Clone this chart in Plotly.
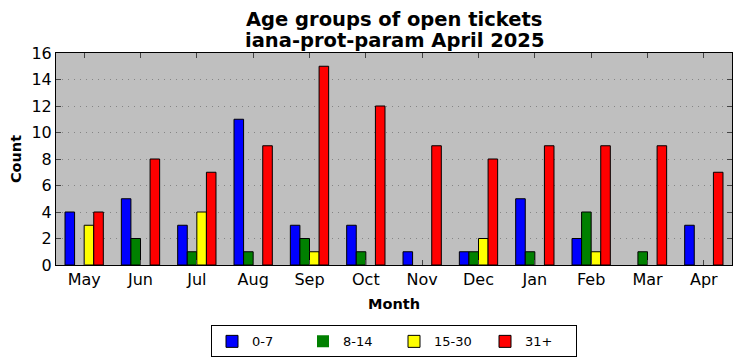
import plotly.graph_objects as go

months = ["May", "Jun", "Jul", "Aug", "Sep", "Oct", "Nov", "Dec", "Jan", "Feb", "Mar", "Apr"]
age_0_7 = [4, 5, 3, 11, 3, 3, 1, 1, 5, 2, 0, 3]
age_8_14 = [0, 2, 1, 1, 2, 1, 0, 1, 1, 4, 1, 0]
age_15_30 = [3, 0, 4, 0, 1, 0, 0, 2, 0, 1, 0, 0]
age_31p = [4, 8, 7, 9, 15, 12, 9, 8, 9, 9, 9, 7]
y_ticks = [0, 2, 4, 6, 8, 10, 12, 14, 16]
title_lines = ["Age groups of open tickets", "iana-prot-param April 2025"]

series = [("0-7", age_0_7, "#0000ff"), ("8-14", age_8_14, "#008000"),
          ("15-30", age_15_30, "#ffff00"), ("31+", age_31p, "#ff0000")]

xs = list(range(len(months)))
w = 0.17
fig = go.Figure()
for k, (name, vals, col) in enumerate(series):
    fig.add_trace(go.Bar(x=xs, y=vals, name=name, marker_color=col,
                         marker_line_color="black",
                         marker_line_width=[1 if v else 0 for v in vals],
                         width=w, offset=-0.34 + k * w))

font = "DejaVu Sans"
for i, line in enumerate(title_lines):
    fig.add_annotation(text="<b>%s</b>" % line, xref="paper", yref="paper",
                       x=0.5, y=[1.160, 1.057][i], xanchor="center", yanchor="middle",
                       showarrow=False, font=dict(size=19.5, family=font, color="black"))

fig.update_layout(
    width=741, height=361,
    margin=dict(l=56, r=9, t=53, b=96, autoexpand=False),
    barmode="overlay",
    paper_bgcolor="white", plot_bgcolor="#bfbfbf",
    font=dict(family=font, color="black", size=12),
    showlegend=True,
    legend=dict(orientation="h", x=0.5, xanchor="center", y=-0.285, yanchor="top",
                xref="paper", bordercolor="black", borderwidth=1,
                font=dict(size=13), entrywidth=46, bgcolor="white",
                itemwidth=30),
)
fig.update_xaxes(range=[-0.5, 11.5], tickvals=xs, ticktext=months,
                 ticks="inside", ticklen=5, mirror="ticks", showline=True,
                 linecolor="black", linewidth=1, showgrid=False, automargin=False,
                 tickfont=dict(size=16),
                 title=dict(text="<b>Month</b>", font=dict(size=14.5), standoff=10))
fig.update_yaxes(range=[0, 16], tickvals=y_ticks,
                 ticks="inside", ticklen=5, mirror="ticks", showline=True,
                 linecolor="black", linewidth=1, showgrid=True, automargin=False,
                 gridcolor="#858585", griddash="1px,5px", gridwidth=1,
                 zeroline=False, tickfont=dict(size=16),
                 title=dict(text="<b>Count</b>", font=dict(size=14.5), standoff=6))
fig.write_html("out.html", config={"displayModeBar": False},
               post_script="document.body.style.margin='0';")
